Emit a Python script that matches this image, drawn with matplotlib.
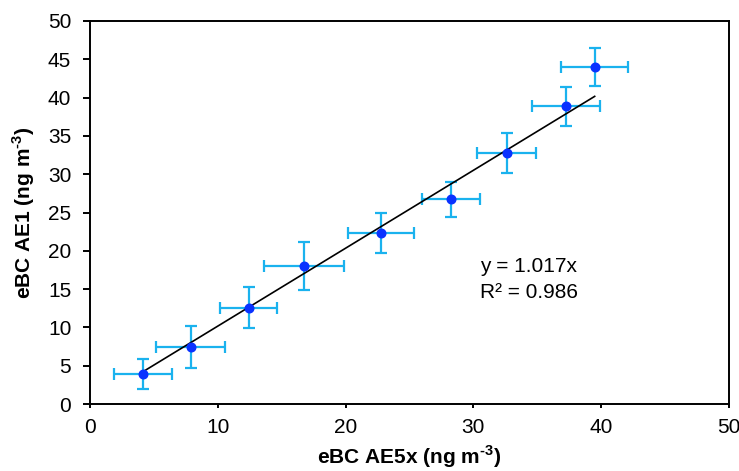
import matplotlib
matplotlib.use("Agg")
import matplotlib.pyplot as plt
import numpy as np

plt.rcParams['font.family'] = ['Liberation Sans', 'DejaVu Sans']
plt.rcParams['mathtext.fontset'] = 'custom'
plt.rcParams['mathtext.rm'] = 'Liberation Sans:bold'
plt.rcParams['mathtext.bf'] = 'Liberation Sans:bold'

# Data
x_ae5x = [4.12, 7.90, 12.42, 16.77, 22.77, 28.25, 32.60, 37.25, 39.49]
y_ae1 = [3.92, 7.44, 12.57, 18.02, 22.36, 26.72, 32.77, 38.86, 44.03]
x_err = [2.26, 2.70, 2.22, 3.13, 2.61, 2.26, 2.31, 2.68, 2.61]
y_err = [1.90, 2.71, 2.69, 3.17, 2.60, 2.25, 2.66, 2.58, 2.46]
slope = 1.017
r2 = 0.986
x_ticks = [0, 10, 20, 30, 40, 50]
y_ticks = [0, 5, 10, 15, 20, 25, 30, 35, 40, 45, 50]

FS = 15

fig = plt.figure(figsize=(7.39, 4.71), dpi=100)
ax = fig.add_axes([90 / 739, 1 - 404 / 471, 639 / 739, 383 / 471])

ax.errorbar(x_ae5x, y_ae1, xerr=x_err, yerr=y_err, fmt='none',
            ecolor='#1AB2EE', elinewidth=1.6, capsize=4.2, capthick=1.6, zorder=2)
ax.plot(x_ae5x, y_ae1, 'o', color='#0A32FF', markersize=6.2, zorder=4)

xf = np.array([min(x_ae5x), max(x_ae5x)])
ax.plot(xf, slope * xf, color='black', lw=1.2, zorder=3)

ax.text(30.5, 17.89, f"y = {slope:.3f}x", fontsize=FS, va='center', ha='left')
ax.text(30.5, 14.62, f"R² = {r2:.3f}", fontsize=FS, va='center', ha='left')

ax.set_xlim(0, 50)
ax.set_ylim(0, 50)
ax.set_xticks(x_ticks)
ax.set_yticks(y_ticks)
ax.tick_params(axis='y', direction='out', length=5, width=1.4, labelsize=FS, pad=8.5)
ax.tick_params(axis='x', direction='out', length=3, width=1.4, labelsize=FS, pad=7)
for s in ax.spines.values():
    s.set_linewidth(1.4)

ax.set_xlabel('eBC AE5x (ng m$^{\\text{-3}}$)', fontsize=FS, fontweight='bold', labelpad=5)
ax.set_ylabel('eBC AE1 (ng m$^{\\text{-3}}$)', fontsize=FS, fontweight='bold', labelpad=8)

fig.savefig('out.png', dpi=100)
